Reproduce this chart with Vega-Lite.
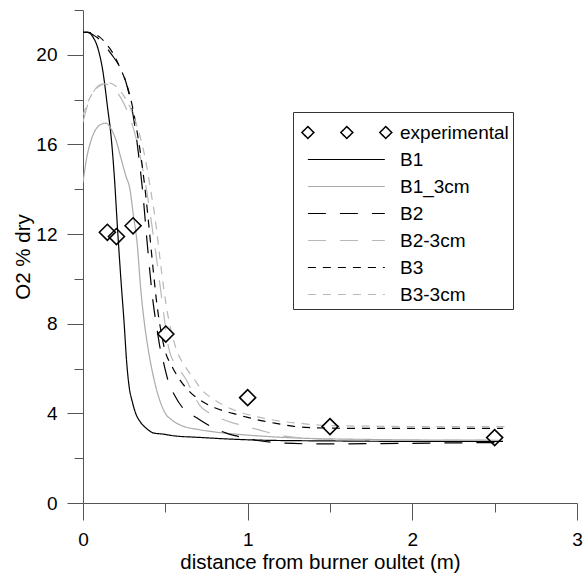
{
  "$schema": "https://vega.github.io/schema/vega-lite/v6.json",
  "width": 494,
  "height": 493,
  "autosize": {"type": "none"},
  "padding": {"left": 83, "top": 10, "right": 6, "bottom": 75},
  "background": "white",
  "config": {
    "view": {"stroke": null},
    "font": "Liberation Sans",
    "axis": {
      "domainColor": "#555555",
      "tickColor": "#555555",
      "domainWidth": 1,
      "tickWidth": 1,
      "grid": false,
      "labelFont": "Liberation Sans",
      "labelFontSize": 19,
      "labelColor": "black",
      "labelFlush": false,
      "labelOverlap": false,
      "titleFont": "Liberation Sans",
      "titleFontSize": 20.5,
      "titleFontWeight": "normal",
      "titleColor": "black"
    }
  },
  "resolve": {"axis": {"x": "independent", "y": "independent"}},
  "datasets": {
    "curves": [
      {"s": "B1", "x": 0, "y": 21.0}, {"s": "B1", "x": 0.03, "y": 21.0}, {"s": "B1", "x": 0.06, "y": 20.8}, {"s": "B1", "x": 0.09, "y": 20.3}, {"s": "B1", "x": 0.12, "y": 19.3}, {"s": "B1", "x": 0.15, "y": 17.6}, {"s": "B1", "x": 0.17, "y": 16.4}, {"s": "B1", "x": 0.19, "y": 14.6}, {"s": "B1", "x": 0.21, "y": 12.2}, {"s": "B1", "x": 0.23, "y": 10.0}, {"s": "B1", "x": 0.25, "y": 8.0}, {"s": "B1", "x": 0.265, "y": 6.3}, {"s": "B1", "x": 0.28, "y": 5.2}, {"s": "B1", "x": 0.30, "y": 4.5}, {"s": "B1", "x": 0.32, "y": 4.0}, {"s": "B1", "x": 0.35, "y": 3.6}, {"s": "B1", "x": 0.39, "y": 3.3}, {"s": "B1", "x": 0.43, "y": 3.12}, {"s": "B1", "x": 0.48, "y": 3.08}, {"s": "B1", "x": 0.55, "y": 3.0}, {"s": "B1", "x": 0.7, "y": 2.93}, {"s": "B1", "x": 0.9, "y": 2.85}, {"s": "B1", "x": 1.1, "y": 2.8}, {"s": "B1", "x": 1.5, "y": 2.77}, {"s": "B1", "x": 2.0, "y": 2.75}, {"s": "B1", "x": 2.55, "y": 2.75},
      {"s": "B1_3cm", "x": 0, "y": 14.3}, {"s": "B1_3cm", "x": 0.02, "y": 15.3}, {"s": "B1_3cm", "x": 0.05, "y": 16.2}, {"s": "B1_3cm", "x": 0.08, "y": 16.7}, {"s": "B1_3cm", "x": 0.11, "y": 16.9}, {"s": "B1_3cm", "x": 0.14, "y": 16.95}, {"s": "B1_3cm", "x": 0.17, "y": 16.7}, {"s": "B1_3cm", "x": 0.2, "y": 16.2}, {"s": "B1_3cm", "x": 0.23, "y": 15.4}, {"s": "B1_3cm", "x": 0.26, "y": 14.6}, {"s": "B1_3cm", "x": 0.285, "y": 14.0}, {"s": "B1_3cm", "x": 0.305, "y": 12.9}, {"s": "B1_3cm", "x": 0.33, "y": 11.5}, {"s": "B1_3cm", "x": 0.35, "y": 9.6}, {"s": "B1_3cm", "x": 0.37, "y": 8.2}, {"s": "B1_3cm", "x": 0.395, "y": 6.9}, {"s": "B1_3cm", "x": 0.42, "y": 5.9}, {"s": "B1_3cm", "x": 0.445, "y": 5.1}, {"s": "B1_3cm", "x": 0.47, "y": 4.5}, {"s": "B1_3cm", "x": 0.5, "y": 4.0}, {"s": "B1_3cm", "x": 0.54, "y": 3.7}, {"s": "B1_3cm", "x": 0.6, "y": 3.45}, {"s": "B1_3cm", "x": 0.7, "y": 3.28}, {"s": "B1_3cm", "x": 0.8, "y": 3.17}, {"s": "B1_3cm", "x": 1.0, "y": 3.03}, {"s": "B1_3cm", "x": 1.3, "y": 2.9}, {"s": "B1_3cm", "x": 1.7, "y": 2.84}, {"s": "B1_3cm", "x": 2.1, "y": 2.81}, {"s": "B1_3cm", "x": 2.55, "y": 2.8},
      {"s": "B2", "x": 0, "y": 21.0}, {"s": "B2", "x": 0.03, "y": 21.0}, {"s": "B2", "x": 0.06, "y": 20.9}, {"s": "B2", "x": 0.09, "y": 20.75}, {"s": "B2", "x": 0.13, "y": 20.45}, {"s": "B2", "x": 0.17, "y": 20.05}, {"s": "B2", "x": 0.22, "y": 19.5}, {"s": "B2", "x": 0.26, "y": 18.8}, {"s": "B2", "x": 0.29, "y": 17.9}, {"s": "B2", "x": 0.315, "y": 16.8}, {"s": "B2", "x": 0.34, "y": 15.4}, {"s": "B2", "x": 0.365, "y": 13.7}, {"s": "B2", "x": 0.385, "y": 12.0}, {"s": "B2", "x": 0.405, "y": 10.4}, {"s": "B2", "x": 0.425, "y": 9.0}, {"s": "B2", "x": 0.44, "y": 8.2}, {"s": "B2", "x": 0.455, "y": 7.5}, {"s": "B2", "x": 0.466, "y": 7.0}, {"s": "B2", "x": 0.485, "y": 6.4}, {"s": "B2", "x": 0.515, "y": 5.5}, {"s": "B2", "x": 0.557, "y": 4.8}, {"s": "B2", "x": 0.606, "y": 4.24}, {"s": "B2", "x": 0.69, "y": 3.8}, {"s": "B2", "x": 0.78, "y": 3.4}, {"s": "B2", "x": 0.87, "y": 3.12}, {"s": "B2", "x": 0.95, "y": 2.96}, {"s": "B2", "x": 1.05, "y": 2.8}, {"s": "B2", "x": 1.2, "y": 2.68}, {"s": "B2", "x": 1.4, "y": 2.64}, {"s": "B2", "x": 1.8, "y": 2.65}, {"s": "B2", "x": 2.2, "y": 2.68}, {"s": "B2", "x": 2.55, "y": 2.7},
      {"s": "B2-3cm", "x": 0, "y": 17.0}, {"s": "B2-3cm", "x": 0.03, "y": 17.8}, {"s": "B2-3cm", "x": 0.06, "y": 18.3}, {"s": "B2-3cm", "x": 0.1, "y": 18.65}, {"s": "B2-3cm", "x": 0.13, "y": 18.7}, {"s": "B2-3cm", "x": 0.17, "y": 18.6}, {"s": "B2-3cm", "x": 0.21, "y": 18.3}, {"s": "B2-3cm", "x": 0.25, "y": 17.8}, {"s": "B2-3cm", "x": 0.29, "y": 17.1}, {"s": "B2-3cm", "x": 0.325, "y": 16.2}, {"s": "B2-3cm", "x": 0.36, "y": 15.0}, {"s": "B2-3cm", "x": 0.39, "y": 13.8}, {"s": "B2-3cm", "x": 0.42, "y": 12.3}, {"s": "B2-3cm", "x": 0.445, "y": 11.0}, {"s": "B2-3cm", "x": 0.47, "y": 9.6}, {"s": "B2-3cm", "x": 0.5, "y": 7.9}, {"s": "B2-3cm", "x": 0.523, "y": 6.83}, {"s": "B2-3cm", "x": 0.57, "y": 6.1}, {"s": "B2-3cm", "x": 0.628, "y": 5.49}, {"s": "B2-3cm", "x": 0.67, "y": 4.85}, {"s": "B2-3cm", "x": 0.71, "y": 4.35}, {"s": "B2-3cm", "x": 0.76, "y": 4.05}, {"s": "B2-3cm", "x": 0.81, "y": 3.85}, {"s": "B2-3cm", "x": 0.9, "y": 3.6}, {"s": "B2-3cm", "x": 0.97, "y": 3.46}, {"s": "B2-3cm", "x": 1.07, "y": 3.26}, {"s": "B2-3cm", "x": 1.17, "y": 3.06}, {"s": "B2-3cm", "x": 1.3, "y": 2.92}, {"s": "B2-3cm", "x": 1.5, "y": 2.84}, {"s": "B2-3cm", "x": 2.0, "y": 2.8}, {"s": "B2-3cm", "x": 2.55, "y": 2.8},
      {"s": "B3", "x": 0, "y": 21.0}, {"s": "B3", "x": 0.03, "y": 21.0}, {"s": "B3", "x": 0.06, "y": 20.95}, {"s": "B3", "x": 0.1, "y": 20.8}, {"s": "B3", "x": 0.14, "y": 20.5}, {"s": "B3", "x": 0.18, "y": 20.1}, {"s": "B3", "x": 0.22, "y": 19.5}, {"s": "B3", "x": 0.26, "y": 18.8}, {"s": "B3", "x": 0.3, "y": 17.7}, {"s": "B3", "x": 0.33, "y": 16.5}, {"s": "B3", "x": 0.355, "y": 15.3}, {"s": "B3", "x": 0.38, "y": 13.8}, {"s": "B3", "x": 0.405, "y": 12.0}, {"s": "B3", "x": 0.425, "y": 10.5}, {"s": "B3", "x": 0.45, "y": 8.8}, {"s": "B3", "x": 0.475, "y": 7.6}, {"s": "B3", "x": 0.497, "y": 6.83}, {"s": "B3", "x": 0.54, "y": 6.1}, {"s": "B3", "x": 0.588, "y": 5.5}, {"s": "B3", "x": 0.65, "y": 4.95}, {"s": "B3", "x": 0.71, "y": 4.6}, {"s": "B3", "x": 0.8, "y": 4.25}, {"s": "B3", "x": 0.91, "y": 4.0}, {"s": "B3", "x": 1.0, "y": 3.82}, {"s": "B3", "x": 1.1, "y": 3.65}, {"s": "B3", "x": 1.2, "y": 3.52}, {"s": "B3", "x": 1.28, "y": 3.42}, {"s": "B3", "x": 1.4, "y": 3.36}, {"s": "B3", "x": 1.7, "y": 3.33}, {"s": "B3", "x": 2.1, "y": 3.33}, {"s": "B3", "x": 2.55, "y": 3.33},
      {"s": "B3-3cm", "x": 0, "y": 17.3}, {"s": "B3-3cm", "x": 0.03, "y": 17.9}, {"s": "B3-3cm", "x": 0.07, "y": 18.4}, {"s": "B3-3cm", "x": 0.11, "y": 18.65}, {"s": "B3-3cm", "x": 0.15, "y": 18.75}, {"s": "B3-3cm", "x": 0.19, "y": 18.65}, {"s": "B3-3cm", "x": 0.23, "y": 18.35}, {"s": "B3-3cm", "x": 0.27, "y": 17.9}, {"s": "B3-3cm", "x": 0.31, "y": 17.2}, {"s": "B3-3cm", "x": 0.345, "y": 16.4}, {"s": "B3-3cm", "x": 0.38, "y": 15.3}, {"s": "B3-3cm", "x": 0.41, "y": 14.0}, {"s": "B3-3cm", "x": 0.44, "y": 12.6}, {"s": "B3-3cm", "x": 0.466, "y": 11.0}, {"s": "B3-3cm", "x": 0.49, "y": 9.6}, {"s": "B3-3cm", "x": 0.52, "y": 8.2}, {"s": "B3-3cm", "x": 0.545, "y": 7.4}, {"s": "B3-3cm", "x": 0.568, "y": 6.83}, {"s": "B3-3cm", "x": 0.62, "y": 6.1}, {"s": "B3-3cm", "x": 0.679, "y": 5.49}, {"s": "B3-3cm", "x": 0.71, "y": 5.15}, {"s": "B3-3cm", "x": 0.8, "y": 4.6}, {"s": "B3-3cm", "x": 0.9, "y": 4.2}, {"s": "B3-3cm", "x": 1.0, "y": 3.95}, {"s": "B3-3cm", "x": 1.1, "y": 3.78}, {"s": "B3-3cm", "x": 1.2, "y": 3.65}, {"s": "B3-3cm", "x": 1.32, "y": 3.55}, {"s": "B3-3cm", "x": 1.45, "y": 3.47}, {"s": "B3-3cm", "x": 1.7, "y": 3.43}, {"s": "B3-3cm", "x": 2.1, "y": 3.41}, {"s": "B3-3cm", "x": 2.58, "y": 3.41}
    ],
    "points": [
      {"s": "experimental", "x": 0.148, "y": 12.08},
      {"s": "experimental", "x": 0.203, "y": 11.89},
      {"s": "experimental", "x": 0.304, "y": 12.37},
      {"s": "experimental", "x": 0.503, "y": 7.54},
      {"s": "experimental", "x": 1.0, "y": 4.7},
      {"s": "experimental", "x": 1.5, "y": 3.41},
      {"s": "experimental", "x": 2.5, "y": 2.92}
    ]
  },
  "layer": [
    {
      "data": {"name": "curves"},
      "mark": {"type": "line", "interpolate": "monotone", "strokeWidth": 1.2, "clip": true},
      "encoding": {
        "x": {
          "field": "x", "type": "quantitative",
          "scale": {"domain": [0, 3], "nice": false, "zero": false},
          "axis": {
            "orient": "bottom",
            "title": "distance from burner oultet (m)",
            "values": [0, 1, 2, 3],
            "format": "d",
            "tickSize": 17,
            "labelPadding": 10,
            "titlePadding": 3,
            "titleX": 237
          }
        },
        "y": {
          "field": "y", "type": "quantitative",
          "scale": {"domain": [0, 22], "nice": false, "zero": false},
          "axis": {
            "orient": "left",
            "title": "O2 % dry",
            "values": [0, 4, 8, 12, 16, 20],
            "format": "d",
            "tickSize": 16,
            "labelPadding": 10,
            "titlePadding": 2
          }
        },
        "color": {
          "field": "s", "type": "nominal",
          "scale": {
            "domain": ["experimental", "B1", "B1_3cm", "B2", "B2-3cm", "B3", "B3-3cm"],
            "range": ["#000000", "#000000", "#aaaaaa", "#000000", "#b8b8b8", "#000000", "#b8b8b8"]
          },
          "legend": {
            "title": " ",
            "titleFontSize": 2,
            "titlePadding": 5,
            "orient": "none",
            "legendX": 210,
            "legendY": 102,
            "padding": 4,
            "strokeColor": "#333333",
            "fillColor": "white",
            "symbolSize": 370,
            "symbolStrokeWidth": 1.2,
            "symbolOffset": 6,
            "labelFont": "Liberation Sans",
            "labelFontSize": 19,
            "labelColor": "black",
            "labelOffset": 78,
            "rowPadding": 7,
            "labelLimit": 300,
            "encode": {
              "symbols": {
                "update": {
                  "shape": {"signal": "datum.value === 'experimental' ? 'M-1.1,0L-0.48,-0.62L0.14,0L-0.48,0.62Z M2.95,0L3.57,-0.62L4.19,0L3.57,0.62Z M7.0,0L7.62,-0.62L8.24,0L7.62,0.62Z' : 'M-0.48,0H7.52'"},
                  "fill": {"value": "transparent"},
                  "strokeWidth": {"signal": "datum.value === 'experimental' ? 1.5 : 1.2"}
                }
              }
            }
          }
        },
        "strokeDash": {
          "field": "s", "type": "nominal",
          "scale": {
            "domain": ["experimental", "B1", "B1_3cm", "B2", "B2-3cm", "B3", "B3-3cm"],
            "range": [[1, 0], [1, 0], [1, 0], [18, 14], [18, 14], [8, 7], [8, 7]]
          },
          "legend": {
            "title": " ",
            "titleFontSize": 2,
            "titlePadding": 5,
            "orient": "none",
            "legendX": 210,
            "legendY": 102,
            "padding": 4,
            "strokeColor": "#333333",
            "fillColor": "white",
            "symbolSize": 370,
            "symbolStrokeWidth": 1.2,
            "symbolOffset": 6,
            "labelFont": "Liberation Sans",
            "labelFontSize": 19,
            "labelColor": "black",
            "labelOffset": 78,
            "rowPadding": 7,
            "labelLimit": 300,
            "encode": {
              "symbols": {
                "update": {
                  "shape": {"signal": "datum.value === 'experimental' ? 'M-1.1,0L-0.48,-0.62L0.14,0L-0.48,0.62Z M2.95,0L3.57,-0.62L4.19,0L3.57,0.62Z M7.0,0L7.62,-0.62L8.24,0L7.62,0.62Z' : 'M-0.48,0H7.52'"},
                  "fill": {"value": "transparent"},
                  "strokeWidth": {"signal": "datum.value === 'experimental' ? 1.5 : 1.2"}
                }
              }
            }
          }
        }
      }
    },
    {
      "data": {"name": "points"},
      "mark": {"type": "point", "shape": "diamond", "filled": false, "size": 256, "strokeWidth": 1.6, "color": "black", "opacity": 1},
      "encoding": {
        "x": {
          "field": "x", "type": "quantitative",
          "axis": {"orient": "bottom", "values": [0.5, 1.5, 2.5], "tickSize": 9, "labels": false, "title": null, "domain": false}
        },
        "y": {
          "field": "y", "type": "quantitative",
          "axis": {"orient": "left", "values": [2, 6, 10, 14, 18, 22], "tickSize": 9, "labels": false, "title": null, "domain": false}
        }
      }
    }
  ]
}
